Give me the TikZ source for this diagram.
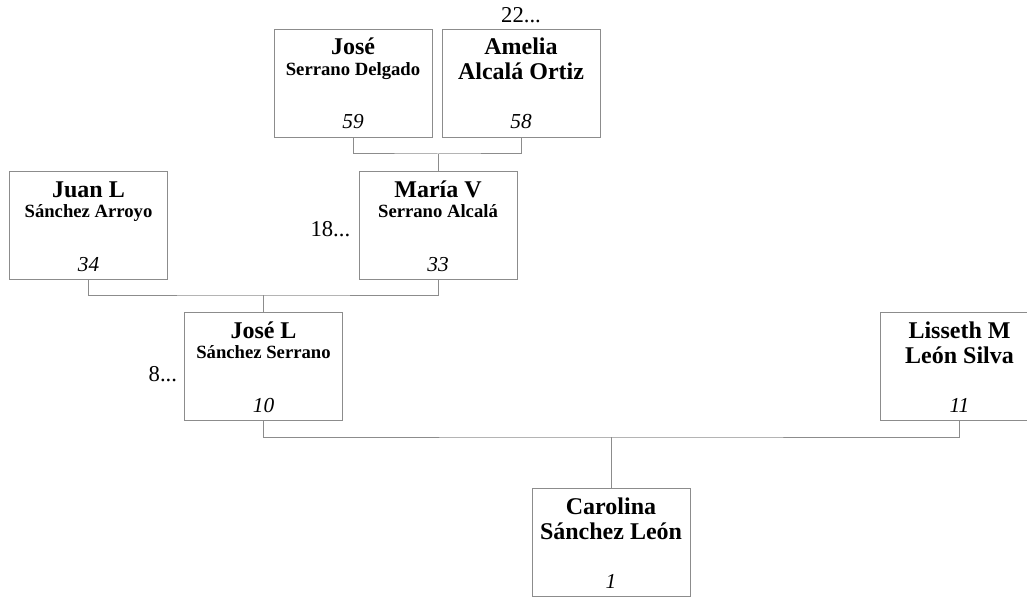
\documentclass[tikz,border=0pt]{standalone}
\usepackage{fontspec}
\setmainfont{Liberation Serif}
\definecolor{lc}{RGB}{140,140,140}
\tikzset{
  pbox/.style={draw=lc, line width=0.75pt, minimum width=118.5pt, minimum height=81pt, inner sep=0pt, anchor=north west},
  nm/.style={anchor=base, inner sep=0pt, font=\fontsize{18pt}{20pt}\selectfont\bfseries, yshift=-19.5pt},
  lastbig/.style={anchor=base, inner sep=0pt, font=\fontsize{18pt}{20pt}\selectfont\bfseries, yshift=-38.25pt},
  lastsmall/.style={anchor=base, inner sep=0pt, font=\fontsize{14pt}{16pt}\selectfont\bfseries, yshift=-35pt},
  num/.style={anchor=base, inner sep=0pt, font=\fontsize{16pt}{18pt}\selectfont\itshape, yshift=-75pt},
  more/.style={inner sep=0pt, font=\fontsize{17pt}{19pt}\selectfont},
  conn/.style={draw=lc, line width=0.75pt},
}
\newcommand\person[7]{%
  \node[pbox] (#1) at (#2,#3) {};
  \node[nm] (#1-first) at (#1.north) {#4};
  \node[#5] (#1-last) at (#1.north) {#6};
  \node[num] (#1-num) at (#1.north) {#7};
}
\begin{document}
\begin{tikzpicture}[x=0.75pt, y=-0.75pt]
\useasboundingbox (0,0) rectangle (1027,599);
\person{jose}{273.5}{29}{José}{lastsmall}{Serrano Delgado}{59}
\person{amelia}{441.5}{29}{Amelia}{lastbig}{Alcalá Ortiz}{58}
\person{juan}{9}{171}{Juan L}{lastsmall}{Sánchez Arroyo}{34}
\person{maria}{358.5}{171}{María V}{lastsmall}{Serrano Alcalá}{33}
\person{josel}{184}{312}{José L}{lastsmall}{Sánchez Serrano}{10}
\person{lisseth}{880}{312}{Lisseth M}{lastbig}{León Silva}{11}
\person{carolina}{531.5}{488}{Carolina}{lastbig}{Sánchez León}{1}

\node[more, anchor=base, yshift=4.5pt] (amelia-more) at (amelia.north) {22...};
\node[more, anchor=base east, xshift=-6pt, yshift=-8pt] (maria-more) at (maria.west) {18...};
\node[more, anchor=base east, xshift=-5pt, yshift=-11pt] (josel-more) at (josel.west) {8...};

\path (maria.north) ++(0,-17) coordinate (j1);
\path (josel.north) ++(0,-17) coordinate (j2);
\path (carolina.north) ++(0,-51) coordinate (j3);
\draw[conn] (jose.south) |- (j1) -| (amelia.south);
\draw[conn] (j1) -- (maria.north);
\draw[conn] (juan.south) |- (j2) -| (maria.south);
\draw[conn] (j2) -- (josel.north);
\draw[conn] (josel.south) |- (j3) -| (lisseth.south);
\draw[conn] (j3) -- (carolina.north);
\end{tikzpicture}
\end{document}
